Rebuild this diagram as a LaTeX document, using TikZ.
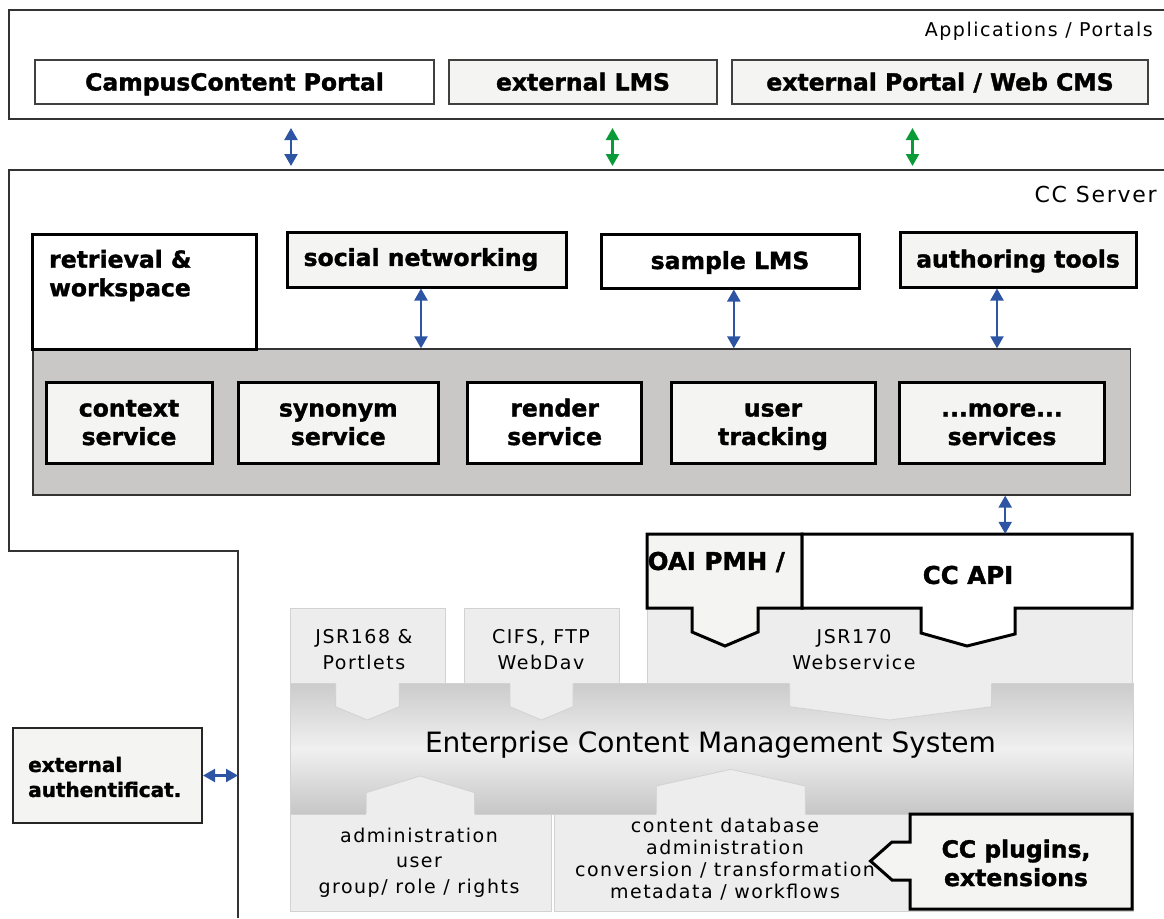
\documentclass[tikz,border=0pt]{standalone}
\usepackage{fontspec}
\setmainfont{DejaVu Sans}[BoldFeatures={FakeBold=1.5}]
\newfontfamily\lsfam{DejaVu Sans}[LetterSpace=8]
\usetikzlibrary{arrows.meta}
\definecolor{boxgray}{HTML}{F4F4F2}
\definecolor{panelgray}{HTML}{C9C8C6}
\definecolor{lightpanel}{HTML}{EDEDED}
\definecolor{panelline}{HTML}{D2D2D2}
\definecolor{bandtop}{HTML}{CBCBCB}
\definecolor{bandmid}{HTML}{F0F0F0}
\definecolor{bandbot}{HTML}{C6C6C6}
\definecolor{arrblue}{HTML}{2E55A3}
\definecolor{arrgreen}{HTML}{0A9B38}
\definecolor{framegray}{HTML}{333333}
\newcommand\topstr{\rule{0pt}{23pt}}
\newcommand\botstr{\rule[-6.5pt]{0pt}{1pt}}
\tikzset{
  frameline/.style={draw=framegray, line width=1.4pt},
  appbox/.style={draw=black!75, line width=2pt, inner sep=0pt, text height=18pt, text depth=1pt, font=\bfseries\fontsize{23.5pt}{28pt}\selectfont},
  svcbox/.style={draw=black, line width=3pt, inner sep=0pt, align=center, font=\bfseries\fontsize{23.5pt}{28.5pt}\selectfont},
  boldtext/.style={inner sep=0pt, align=left, font=\bfseries\fontsize{23.5pt}{28.5pt}\selectfont},
  regtext/.style={inner sep=0pt, align=center, font=\lsfam\fontsize{19pt}{25.6pt}\selectfont},
  lightbox/.style={fill=lightpanel, draw=panelline, line width=0.8pt, inner sep=0pt},
  tabfill/.style={fill=lightpanel},
  tabline/.style={draw=panelline, line width=0.8pt},
  biarr/.style={{Triangle[width=13pt,length=12pt]}-{Triangle[width=13pt,length=12pt]}, line width=2.2pt, draw=#1},
  thickshape/.style={draw=black, line width=3pt, line join=miter}
}
\begin{document}
\begin{tikzpicture}[x=1pt,y=-1pt]
\useasboundingbox (0,0) rectangle (1164,918);
\fill[white] (0,0) rectangle (1164,918);

% ---------- Applications / Portals frame ----------
\draw[frameline] (1164,10) -- (9,10) -- (9,119) -- (1164,119);
\node[anchor=east, inner sep=0pt, font=\lsfam\fontsize{19pt}{22pt}\selectfont] (apptitle) at (1153,31) {Applications / Portals};
\node[appbox, fill=white, minimum width=399pt, minimum height=44pt] (camp) at (234.5,82) {CampusContent Portal};
\node[appbox, fill=boxgray, minimum width=268pt, minimum height=44pt] (elms) at (583,82) {external LMS};
\node[appbox, fill=boxgray, minimum width=416pt, minimum height=44pt] (eportal) at (940,82) {external Portal / Web CMS};

% ---------- CC Server frame ----------
\draw[frameline] (1164,170) -- (9,170) -- (9,551) -- (238,551) -- (238,918);
\node[anchor=east, inner sep=0pt, font=\lsfam\fontsize{22pt}{26pt}\selectfont] (srvtitle) at (1157,194) {CC Server};

% arrows between frames
\coordinate (a1t) at (291,128); \coordinate (a1b) at (291,166);
\coordinate (a2t) at (612.5,128); \coordinate (a2b) at (612.5,166);
\coordinate (a3t) at (912.5,128); \coordinate (a3b) at (912.5,166);
\draw[biarr=arrblue] (a1t) -- (a1b);
\draw[biarr=arrgreen] (a2t) -- (a2b);
\draw[biarr=arrgreen] (a3t) -- (a3b);

% ---------- service panel ----------
\node[fill=panelgray, draw=framegray, line width=1.3pt, minimum width=1097.5pt, minimum height=146pt, inner sep=0pt] (panel) at (581.75,422) {};
\node[svcbox, fill=white, minimum width=224pt, minimum height=115pt] (retr) at (144,291.5) {};
\node[boldtext, anchor=west] (retrtxt) at (49,275.5) {retrieval \&\\workspace};
\node[svcbox, fill=boxgray, minimum width=279pt, minimum height=55pt] (social) at (426.5,259.5) {social networking\hspace*{11pt}};
\node[svcbox, fill=white, minimum width=258pt, minimum height=54pt, text height=18pt, text depth=2pt] (sample) at (730,261) {sample LMS};
\node[svcbox, fill=boxgray, minimum width=236pt, minimum height=55pt, text height=18pt, text depth=2pt] (author) at (1018,259.5) {authoring tools};

\node[svcbox, fill=boxgray, minimum width=166pt, minimum height=81pt] (context) at (129,422.5) {\topstr context\\service\botstr};
\node[svcbox, fill=boxgray, minimum width=200.6pt, minimum height=81pt] (synonym) at (338.3,422.5) {\topstr synonym\\service\botstr};
\node[svcbox, fill=white, minimum width=173.8pt, minimum height=81pt] (render) at (554.6,422.5) {\topstr render\\service\botstr};
\node[svcbox, fill=boxgray, minimum width=204pt, minimum height=81pt] (usertr) at (773,422.5) {\topstr user\\tracking\botstr};
\node[svcbox, fill=boxgray, minimum width=204.8pt, minimum height=81pt] (more) at (1002,422.5) {\topstr ...more...\\services\botstr};

\draw[biarr=arrblue] ([xshift=-5.5pt]social.south) -- ([xshift=-5.5pt]social.south |- panel.north);
\draw[biarr=arrblue] ([xshift=3.8pt]sample.south) -- ([xshift=3.8pt]sample.south |- panel.north);
\draw[biarr=arrblue] ([xshift=-21pt]author.south) -- ([xshift=-21pt]author.south |- panel.north);

% ---------- ECM ----------
\node[lightbox, minimum width=155pt, minimum height=75pt] (jsr168) at (367.5,645.5) {};
\node[lightbox, minimum width=155pt, minimum height=75pt] (cifs) at (541.5,645.5) {};
\node[lightbox, minimum width=485pt, minimum height=75pt] (jsr170) at (889.5,645.5) {};
\node[lightbox, minimum width=261pt, minimum height=97pt] (admin) at (420.5,862.5) {};
\node[lightbox, minimum width=579pt, minimum height=97pt] (content) at (843.5,862.5) {};

\node[draw=panelline, line width=0.8pt, top color=bandtop, bottom color=bandbot, middle color=bandmid, minimum width=843pt, minimum height=131pt, inner sep=0pt] (ecm) at (711.5,748.5) {};

% tabs pointing down into the band
\fill[tabfill] (335.6,682) -- (335.6,706.7) -- (367.4,720) -- (399.2,706.7) -- (399.2,682) -- cycle;
\draw[tabline] (335.6,683.5) -- (335.6,706.7) -- (367.4,720) -- (399.2,706.7) -- (399.2,683.5);
\fill[tabfill] (510,682) -- (510,706.7) -- (541.5,720) -- (573,706.7) -- (573,682) -- cycle;
\draw[tabline] (510,683.5) -- (510,706.7) -- (541.5,720) -- (573,706.7) -- (573,683.5);
\fill[tabfill] (789.7,682) -- (789.7,706.7) -- (889.9,720) -- (991.5,706.7) -- (991.5,682) -- cycle;
\draw[tabline] (789.7,683.5) -- (789.7,706.7) -- (889.9,720) -- (991.5,706.7) -- (991.5,683.5);
% tabs pointing up into the band
\fill[tabfill] (366.2,815) -- (366.2,792.7) -- (420.2,776) -- (474.6,792.7) -- (474.6,815) -- cycle;
\draw[tabline] (366.2,813) -- (366.2,792.7) -- (420.2,776) -- (474.6,792.7) -- (474.6,813);
\fill[tabfill] (656.3,815) -- (656.3,786) -- (730.8,769.3) -- (805.3,786) -- (805.3,815) -- cycle;
\draw[tabline] (656.3,813) -- (656.3,786) -- (730.8,769.3) -- (805.3,786) -- (805.3,813);

\node[inner sep=0pt, font=\fontsize{28pt}{32pt}\selectfont] (ecmtxt) at (710.5,745) {Enterprise Content Management System};

\node[regtext] (jsr168txt) at (364,649.5) {JSR168 \&\\Portlets};
\node[regtext] (cifstxt) at (541,649.5) {CIFS, FTP\\WebDav};
\node[regtext] (jsr170txt) at (854,649.5) {JSR170\\Webservice};
\node[regtext] (admintxt) at (419,862.5) {administration\\user\\group/ role / rights};
\node[regtext, font=\lsfam\fontsize{19pt}{21.9pt}\selectfont] (contenttxt) at (725,859) {content database\\administration\\conversion / transformation\\metadata / workflows};

% ---------- OAI PMH / CC API ----------
\filldraw[thickshape, fill=boxgray] (647,534) -- (802,534) -- (802,608) -- (758,608) -- (758,632) -- (725,646) -- (692,632) -- (692,608) -- (647,608) -- cycle;
\filldraw[thickshape, fill=white] (802,534) -- (1132,534) -- (1132,608) -- (1015,608) -- (1015,634) -- (967,646) -- (921,633) -- (921,608) -- (802,608) -- cycle;
\node[minimum width=155pt, minimum height=74pt, inner sep=0pt] (oai) at (724.5,571) {};
\node[minimum width=330pt, minimum height=74pt, inner sep=0pt] (ccapi) at (967,571) {};
\node[boldtext, anchor=west, font=\bfseries\fontsize{24.5pt}{28pt}\selectfont, inner sep=0.5pt] (oaitxt) at (647,562) {OAI PMH /};
\node[boldtext, font=\bfseries\fontsize{24.5pt}{28pt}\selectfont] (ccapitxt) at (968,575) {CC API};
\draw[biarr=arrblue] ([xshift=3.2pt]more.south |- panel.south) -- ([xshift=3.2pt]more.south |- ccapi.north);

% ---------- CC plugins ----------
\filldraw[thickshape, fill=boxgray] (910,814) -- (1132,814) -- (1132,909) -- (910,909) -- (910,880) -- (892,880) -- (870.5,861) -- (892,842) -- (910,842) -- cycle;
\node[minimum width=222pt, minimum height=95pt, inner sep=0pt] (plugins) at (1021,861.5) {};
\node[boldtext, align=center] (pluginstxt) at (1016,863) {CC plugins,\\extensions};

% ---------- external authentication ----------
\node[draw=black!85, line width=2pt, fill=boxgray, minimum width=189.4pt, minimum height=95pt, inner sep=0pt] (extauth) at (107.3,775.5) {};
\node[boldtext, anchor=west, font=\bfseries\fontsize{20pt}{25pt}\selectfont] (extauthtxt) at (28,777) {external\\authentificat.};
\coordinate (srvedge) at (238,775.5);
\draw[biarr=arrblue] (extauth.east) -- (srvedge);
\end{tikzpicture}
\end{document}
